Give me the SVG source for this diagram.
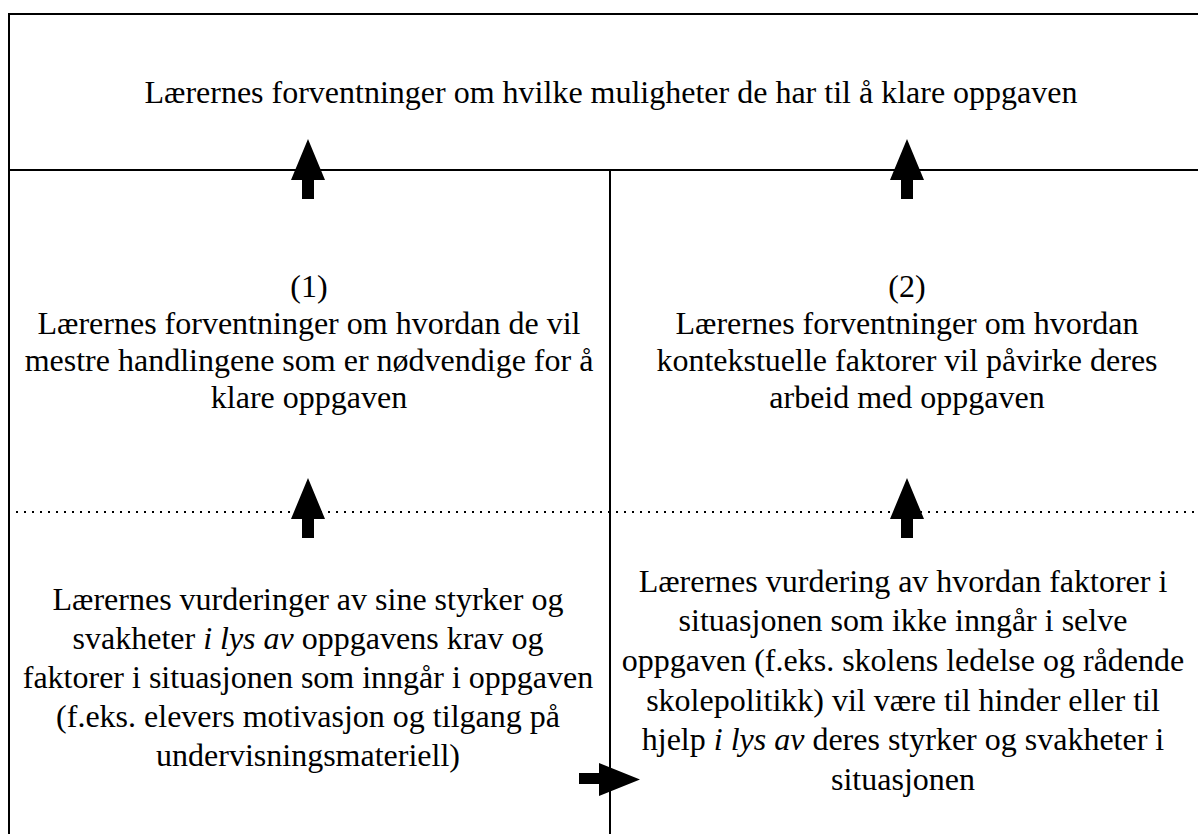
<svg xmlns="http://www.w3.org/2000/svg" xmlns:xlink="http://www.w3.org/1999/xlink" width="1198" height="834" viewBox="0 0 1198 834">
<style>
  text { font-family: "Liberation Serif", "Times New Roman", serif; font-size: 32px; fill: #000; text-anchor: middle; }
  .it { font-style: italic; }
  .frame { stroke: #000; stroke-width: 2; fill: none; }
  .dot { stroke: #000; stroke-width: 2; stroke-dasharray: 2 6; fill: none; }
  .arrow { fill: #000; }
</style>
<defs>
  <polygon id="up" points="0,0 17,41 6,41 6,60 -6,60 -6,41 -17,41"/>
</defs>
<rect width="1198" height="834" fill="#fff"/>
<g id="frame">
  <line class="frame" x1="8" y1="14" x2="1198" y2="14"/>
  <line class="frame" x1="9" y1="13" x2="9" y2="834"/>
  <line class="frame" x1="9" y1="170" x2="1198" y2="170"/>
  <line class="frame" x1="610" y1="170" x2="610" y2="834"/>
  <line class="dot" x1="16" y1="512" x2="1198" y2="512"/>
</g>
<g id="top">
  <text x="611" y="103">Lærernes forventninger om hvilke muligheter de har til å klare oppgaven</text>
</g>
<g id="mid-left">
  <text x="309" y="297">(1)</text>
  <text x="309" y="334">Lærernes forventninger om hvordan de vil</text>
  <text x="309" y="371">mestre handlingene som er nødvendige for å</text>
  <text x="309" y="408">klare oppgaven</text>
</g>
<g id="mid-right">
  <text x="907" y="297">(2)</text>
  <text x="907" y="334">Lærernes forventninger om hvordan</text>
  <text x="907" y="371">kontekstuelle faktorer vil påvirke deres</text>
  <text x="907" y="408">arbeid med oppgaven</text>
</g>
<g id="bottom-left">
  <text x="308" y="610">Lærernes vurderinger av sine styrker og</text>
  <text x="308" y="649">svakheter <tspan class="it">i lys av</tspan> oppgavens krav og</text>
  <text x="308" y="688">faktorer i situasjonen som inngår i oppgaven</text>
  <text x="308" y="727">(f.eks. elevers motivasjon og tilgang på</text>
  <text x="308" y="766">undervisningsmateriell)</text>
</g>
<g id="bottom-right">
  <text x="903" y="592">Lærernes vurdering av hvordan faktorer i</text>
  <text x="903" y="631">situasjonen som ikke inngår i selve</text>
  <text x="903" y="671">oppgaven (f.eks. skolens ledelse og rådende</text>
  <text x="903" y="711">skolepolitikk) vil være til hinder eller til</text>
  <text x="903" y="750">hjelp <tspan class="it">i lys av</tspan> deres styrker og svakheter i</text>
  <text x="903" y="790">situasjonen</text>
</g>
<g id="connectors">
  <use xlink:href="#up" class="arrow" x="308" y="139"/>
  <use xlink:href="#up" class="arrow" x="907" y="139"/>
  <use xlink:href="#up" class="arrow" x="308" y="478"/>
  <use xlink:href="#up" class="arrow" x="907" y="478"/>
  <polygon class="arrow" points="640,779.5 599,796 599,784 579,784 579,773 599,773 599,763"/>
</g>
</svg>
